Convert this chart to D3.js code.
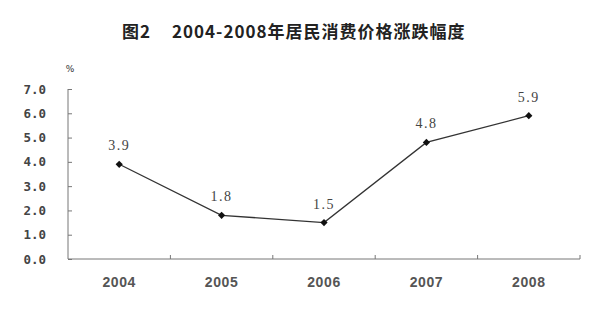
<!DOCTYPE html>
<html>
<head>
<meta charset="utf-8">
<script src="https://d3js.org/d3.v7.min.js"></script>
<style>
  body { margin: 0; background: #fff; }
  svg { display: block; }
</style>
</head>
<body>
<svg id="chart" width="600" height="313"></svg>
<script>
// data
var years = ["2004", "2005", "2006", "2007", "2008"];
var cpiChange = [3.9, 1.8, 1.5, 4.8, 5.9];
var yTicks = [0, 1, 2, 3, 4, 5, 6, 7];
var chartTitle = ["图2", "2004-2008年居民消费价格涨跌幅度"];

var svg = d3.select("#chart");
var plotLeft = 68, plotRight = 580, plotTop = 89, plotBottom = 259;

var x = d3.scaleBand().domain(years).range([plotLeft, plotRight]);
var y = d3.scaleLinear().domain([0, 7]).range([plotBottom, plotTop]);

var title = svg.append("text")
    .attr("x", 122).attr("y", 38)
    .attr("font-family", "'Noto Sans CJK SC', sans-serif")
    .attr("font-weight", "bold")
    .attr("font-size", 17)
    .attr("letter-spacing", 1)
    .attr("fill", "#222");
title.append("tspan").text(chartTitle[0]);
title.append("tspan").attr("x", 172).text(chartTitle[1]);

svg.append("text")
    .attr("x", 70).attr("y", 72)
    .attr("text-anchor", "middle")
    .attr("font-family", "'DejaVu Sans', sans-serif")
    .attr("font-size", 9)
    .attr("fill", "#333")
    .text("%");

// y axis
var yAxis = svg.append("g")
    .attr("transform", "translate(" + plotLeft + ",0)")
    .call(d3.axisRight(y).tickValues(yTicks).tickSize(4).tickFormat(""));
yAxis.select(".domain").attr("d", "M0," + plotTop + "V" + plotBottom).attr("stroke", "#777");
yAxis.selectAll(".tick line").attr("stroke", "#777");

svg.selectAll(".ylab").data(yTicks).enter().append("text")
    .attr("class", "ylab")
    .attr("x", 46).attr("y", function (d) { return y(d) + 4.5; })
    .attr("text-anchor", "end")
    .attr("font-family", "'DejaVu Sans Mono', monospace")
    .attr("font-weight", "bold")
    .attr("font-size", 12.5)
    .attr("fill", "#444")
    .text(function (d) { return d3.format(".1f")(d); });

// x axis
var xAxis = svg.append("g")
    .attr("transform", "translate(0," + plotBottom + ")");
xAxis.append("line")
    .attr("x1", plotLeft).attr("x2", plotRight)
    .attr("stroke", "#777");
xAxis.selectAll(".xtick").data(years).enter().append("line")
    .attr("class", "xtick")
    .attr("x1", function (d) { return x(d) + x.bandwidth(); })
    .attr("x2", function (d) { return x(d) + x.bandwidth(); })
    .attr("y1", 0).attr("y2", -4)
    .attr("stroke", "#777");

svg.selectAll(".xlab").data(years).enter().append("text")
    .attr("class", "xlab")
    .attr("x", function (d) { return x(d) + x.bandwidth() / 2; })
    .attr("y", 287)
    .attr("text-anchor", "middle")
    .attr("font-family", "'Liberation Sans', sans-serif")
    .attr("font-weight", "bold")
    .attr("font-size", 14)
    .attr("letter-spacing", 0.6)
    .attr("fill", "#555")
    .text(function (d) { return d; });

// line
var line = d3.line()
    .x(function (d, i) { return x(years[i]) + x.bandwidth() / 2; })
    .y(function (d) { return y(d); });

svg.append("path")
    .datum(cpiChange)
    .attr("d", line)
    .attr("fill", "none")
    .attr("stroke", "#333")
    .attr("stroke-width", 1.3);

svg.selectAll(".pt").data(cpiChange).enter().append("path")
    .attr("class", "pt")
    .attr("transform", function (d, i) {
        return "translate(" + (x(years[i]) + x.bandwidth() / 2) + "," + y(d) + ") rotate(45)";
    })
    .attr("d", d3.symbol().type(d3.symbolSquare).size(26))
    .attr("fill", "#111");

svg.selectAll(".vlab").data(cpiChange).enter().append("text")
    .attr("class", "vlab")
    .attr("x", function (d, i) { return x(years[i]) + x.bandwidth() / 2; })
    .attr("y", function (d) { return y(d) - 14; })
    .attr("text-anchor", "middle")
    .attr("font-family", "'Liberation Serif', serif")
    .attr("font-size", 14)
    .attr("letter-spacing", 1.5)
    .attr("fill", "#444")
    .text(function (d) { return d3.format(".1f")(d); });
</script>
</body>
</html>
